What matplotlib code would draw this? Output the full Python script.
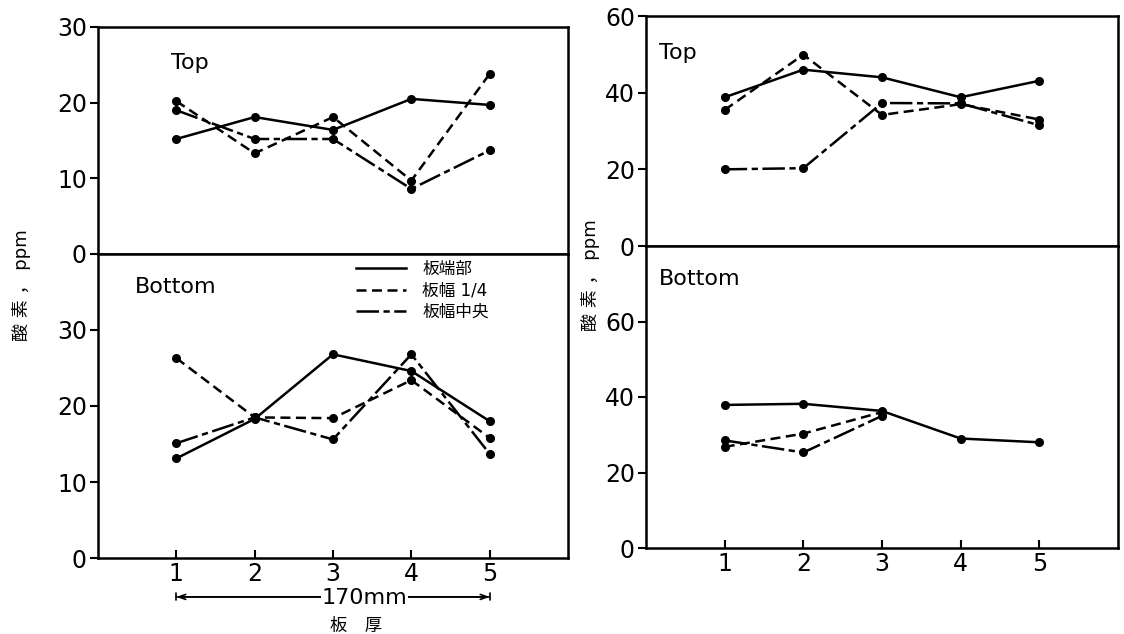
import matplotlib.pyplot as plt
from matplotlib.lines import Line2D

plt.rcParams['font.family'] = ['DejaVu Sans', 'Noto Sans CJK JP']

positions = [1, 2, 3, 4, 5]

# 酸素 (ppm), left plate
edge_top_L = [15.2, 18.1, 16.4, 20.5, 19.7]
quarter_top_L = [20.2, 13.3, 18.1, 9.7, 23.8]
center_top_L = [19.0, 15.2, 15.2, 8.6, 13.7]

edge_bot_L = [13.1, 18.3, 26.8, 24.6, 18.0]
quarter_bot_L = [26.3, 18.5, 18.4, 23.4, 15.8]
center_bot_L = [15.1, 18.5, 15.6, 26.8, 13.7]

# 酸素 (ppm), right plate
edge_top_R = [38.8, 46.0, 44.0, 38.8, 43.1]
quarter_top_R = [35.5, 49.9, 34.2, 37.0, 33.0]
center_top_R = [20.0, 20.3, 37.3, 37.2, 31.5]

edge_bot_R = [37.9, 38.2, 36.3, 29.0, 28.0]
quarter_bot_R = [26.8, 30.3, 36.0]
center_bot_R = [28.5, 25.3, 35.0]

labels = ['板端部', '板幅 1/4', '板幅中央']

lw = 1.8
styles = [
    dict(linestyle='-'),
    dict(linestyle=(0, (4, 2.2))),
    dict(linestyle=(0, (9, 1.8, 2.5, 1.8))),
]

fig = plt.figure(figsize=(11.24, 6.34), dpi=100)

W, H = 1124, 634


def box(x0, y_top, x1, y_bot):
    return [x0 / W, 1 - y_bot / H, (x1 - x0) / W, (y_bot - y_top) / H]


ax_lt = fig.add_axes(box(98, 27, 568, 254))
ax_lb = fig.add_axes(box(98, 254, 568, 558))
ax_rt = fig.add_axes(box(646, 16, 1118, 246))
ax_rb = fig.add_axes(box(646, 246, 1118, 548))


def draw(ax, series):
    for vals, st in zip(series, styles):
        ax.plot(positions[:len(vals)], vals, color='black', lw=lw,
                marker='o', ms=5.5, **st)


draw(ax_lt, [edge_top_L, quarter_top_L, center_top_L])
draw(ax_lb, [edge_bot_L, quarter_bot_L, center_bot_L])
draw(ax_rt, [edge_top_R, quarter_top_R, center_top_R])
draw(ax_rb, [edge_bot_R, quarter_bot_R, center_bot_R])

for ax, ylim, yt in [(ax_lt, 30, [0, 10, 20, 30]),
                     (ax_lb, 40, [0, 10, 20, 30]),
                     (ax_rt, 60, [0, 20, 40, 60]),
                     (ax_rb, 80, [0, 20, 40, 60])]:
    ax.set_xlim(0, 6)
    ax.set_ylim(0, ylim)
    ax.set_yticks(yt)
    for s in ax.spines.values():
        s.set_linewidth(1.8)
    ax.tick_params(axis='y', direction='out', length=6, width=1.5,
                   labelsize=17, pad=2)

for ax in [ax_lt, ax_rt]:
    ax.set_xticks([])

for ax in [ax_lb, ax_rb]:
    ax.set_xticks(positions)
    ax.tick_params(axis='x', direction='in', length=6, width=1.5,
                   labelsize=17, pad=3)

for ax in [ax_lt, ax_rt]:
    ax.text(0.155 if ax is ax_lt else 0.028, 0.84, 'Top', fontsize=16,
            transform=ax.transAxes, va='center', ha='left')
for ax in [ax_lb, ax_rb]:
    ax.text(0.079 if ax is ax_lb else 0.028, 0.89, 'Bottom', fontsize=16,
            transform=ax.transAxes, va='center', ha='left')

handles = [Line2D([], [], color='black', lw=lw, **st) for st in styles]
ax_lb.legend(handles, labels, loc='upper left', bbox_to_anchor=(0.52, 1.025),
             frameon=False, fontsize=12, handlelength=3.0,
             labelspacing=0.22, handletextpad=1.0, borderpad=0.3)

# 板厚 170mm
tr = ax_lb.get_xaxis_transform()
ay = -0.128
ax_lb.annotate('', xy=(5, ay), xytext=(1, ay), xycoords=tr,
               arrowprops=dict(arrowstyle='<->,head_length=0.5,head_width=0.18',
                               lw=1.2, color='black', shrinkA=0, shrinkB=0))
ax_lb.annotate('', xy=(5, ay), xytext=(1, ay), xycoords=tr,
               arrowprops=dict(arrowstyle='|-|,widthA=0.25,widthB=0.25',
                               lw=1.2, color='black', shrinkA=0, shrinkB=0))
ax_lb.text(3.4, ay - 0.005, '170mm', transform=tr, fontsize=16, ha='center',
           va='center', bbox=dict(facecolor='white', edgecolor='none', pad=0.3))
ax_lb.text(3.3, -0.222, '板　厚', transform=tr, fontsize=12.5, ha='center',
           va='center')

fig.text(22 / W, 1 - 285 / H, '酸 素 ， ppm', rotation=90, fontsize=13,
         ha='center', va='center')
fig.text(590 / W, 1 - 275 / H, '酸 素 ， ppm', rotation=90, fontsize=13,
         ha='center', va='center')

plt.savefig('out.png', dpi=100)
